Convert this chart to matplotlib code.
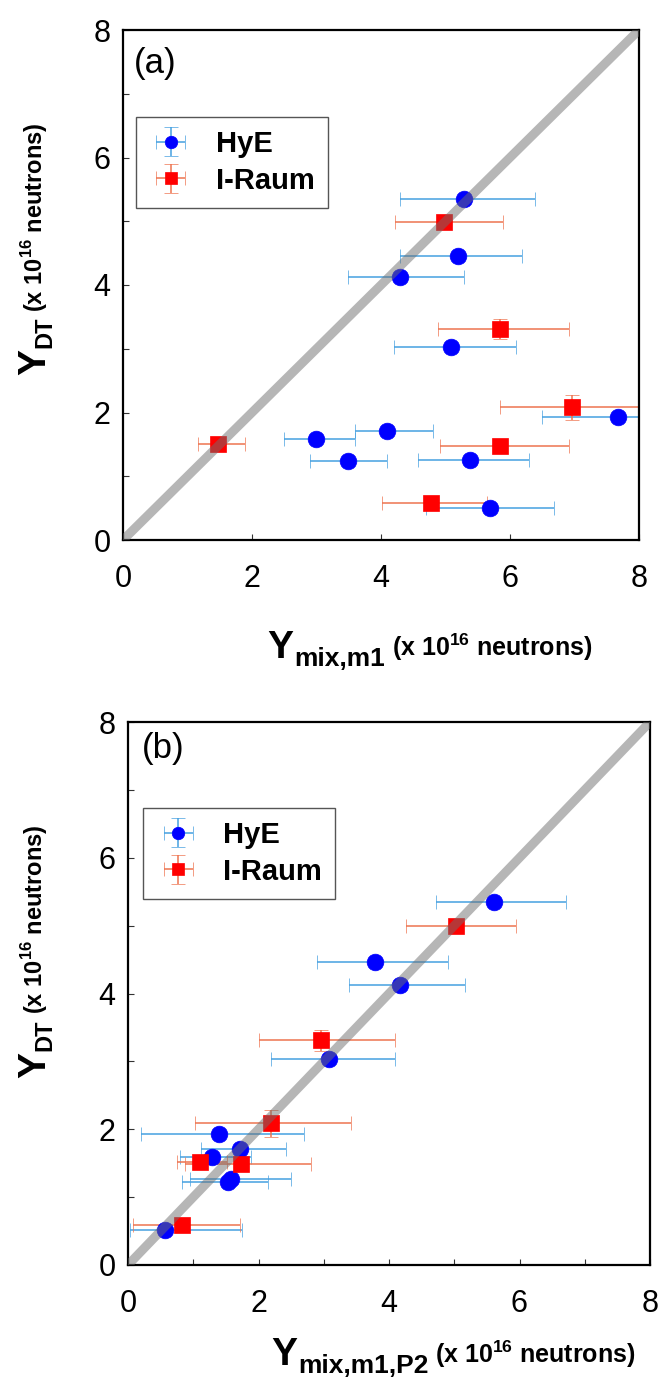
import matplotlib
matplotlib.use('Agg')
import matplotlib.pyplot as plt
from matplotlib.transforms import IdentityTransform
from matplotlib.ticker import MultipleLocator

plt.rcParams['font.family'] = ['Liberation Sans', 'DejaVu Sans']
plt.rcParams['mathtext.fontset'] = 'custom'
plt.rcParams['mathtext.rm'] = 'Liberation Sans'
plt.rcParams['mathtext.bf'] = 'Liberation Sans:bold'

# ---------------- data: panel (a) ----------------
a_hye_x = [5.29, 5.19, 4.29, 5.09, 7.68, 4.09, 2.99, 3.49, 5.38, 5.69]
a_hye_y = [5.35, 4.46, 4.12, 3.03, 1.93, 1.71, 1.59, 1.24, 1.25, 0.50]
a_hye_xlo = [4.30, 4.30, 3.49, 4.20, 6.49, 3.60, 2.50, 2.90, 4.58, 4.69]
a_hye_xhi = [6.39, 6.18, 5.29, 6.09, 8.90, 4.80, 3.60, 4.09, 6.29, 6.68]
a_hye_yerr = [0.05, 0.05, 0.05, 0.05, 0.05, 0.05, 0.05, 0.05, 0.05, 0.05]

a_ir_x = [4.97, 5.85, 6.96, 5.84, 1.47, 4.77]
a_ir_y = [4.99, 3.31, 2.08, 1.48, 1.51, 0.58]
a_ir_xlo = [4.21, 4.88, 5.85, 4.91, 1.17, 4.01]
a_ir_xhi = [5.89, 6.91, 8.10, 6.91, 1.89, 5.64]
a_ir_yerr = [0.05, 0.15, 0.20, 0.05, 0.05, 0.05]

# ---------------- data: panel (b) ----------------
b_hye_x = [5.61, 3.79, 4.17, 3.08, 1.39, 1.72, 1.28, 1.58, 1.53, 0.56]
b_hye_y = [5.35, 4.47, 4.12, 3.04, 1.93, 1.71, 1.59, 1.26, 1.23, 0.51]
b_hye_xlo = [4.72, 2.89, 3.38, 2.19, 0.20, 1.12, 0.79, 0.95, 0.82, 0.03]
b_hye_xhi = [6.71, 4.90, 5.17, 4.09, 2.69, 2.42, 1.89, 2.50, 2.15, 1.75]
b_hye_yerr = [0.05, 0.05, 0.05, 0.05, 0.05, 0.05, 0.05, 0.05, 0.05, 0.05]

b_ir_x = [5.02, 2.96, 2.19, 1.11, 1.73, 0.83]
b_ir_y = [5.00, 3.31, 2.09, 1.52, 1.49, 0.59]
b_ir_xlo = [4.26, 2.00, 1.02, 0.75, 0.87, 0.07]
b_ir_xhi = [5.94, 4.09, 3.41, 1.52, 2.80, 1.71]
b_ir_yerr = [0.05, 0.15, 0.20, 0.05, 0.05, 0.05]

series_labels = ['HyE', 'I-Raum']
tick_vals = [0, 2, 4, 6, 8]

W, H = 666, 1379
fig = plt.figure(figsize=(W / 100, H / 100), dpi=100)


def px_axes(l, t, r, b):
    return fig.add_axes([l / W, 1 - b / H, (r - l) / W, (b - t) / H])


ax1 = px_axes(123, 30, 639, 540)
ax2 = px_axes(128, 722, 650, 1265)


def draw_series(ax, x, y, xlo, xhi, yerr, marker, msize, mcolor, ecolor, label):
    xerr = [[xv - lo for xv, lo in zip(x, xlo)], [hi - xv for xv, hi in zip(x, xhi)]]
    c = ax.errorbar(x, y, xerr=xerr, yerr=yerr, fmt=marker, color=mcolor,
                    markersize=msize, markeredgecolor=mcolor, markeredgewidth=0.5,
                    ecolor=ecolor, elinewidth=1.1, capsize=5, capthick=1.2,
                    label=label)
    c.lines[0].set_zorder(3)
    for cl in c.lines[1]:
        cl.set_zorder(2)
    for bl in c.lines[2]:
        bl.set_zorder(2)
    return c


def style_axes(ax, xminor):
    ax.set_xlim(0, 8)
    ax.set_ylim(0, 8)
    ax.plot([0, 8], [0, 8], color='#6e6e6e', alpha=0.5, lw=6.5, zorder=4,
            solid_capstyle='butt')
    ax.set_xticks(tick_vals)
    ax.set_yticks(tick_vals)
    ax.set_xticklabels([str(v) for v in tick_vals])
    ax.set_yticklabels([str(v) for v in tick_vals])
    if xminor:
        ax.xaxis.set_minor_locator(MultipleLocator(1))
    ax.yaxis.set_minor_locator(MultipleLocator(1))
    ax.tick_params(which='both', direction='in', length=4.5, width=0.8,
                   color='#333333', top=False, right=False)
    ax.tick_params(axis='x', which='major', labelsize=22, pad=17)
    ax.tick_params(axis='y', which='major', labelsize=22, pad=9)
    for s in ax.spines.values():
        s.set_linewidth(1.6)
        s.set_color('black')


def add_legend(ax, anchor):
    leg = ax.legend(loc='upper left', bbox_to_anchor=anchor, borderaxespad=0,
                    prop={'weight': 'bold', 'size': 21}, fancybox=False,
                    framealpha=1, edgecolor='#555555', handlelength=1.5,
                    handletextpad=0.8, labelspacing=0.3, borderpad=0.45,
                    markerscale=0.75)
    leg.get_frame().set_linewidth(1.0)
    leg.set_zorder(10)


for ax, d, xminor, anchor, tag, tagpos in [
    (ax1, (a_hye_x, a_hye_y, a_hye_xlo, a_hye_xhi, a_hye_yerr,
           a_ir_x, a_ir_y, a_ir_xlo, a_ir_xhi, a_ir_yerr), False,
     (0.025, 0.830), '(a)', (0.022, 0.935)),
    (ax2, (b_hye_x, b_hye_y, b_hye_xlo, b_hye_xhi, b_hye_yerr,
           b_ir_x, b_ir_y, b_ir_xlo, b_ir_xhi, b_ir_yerr), True,
     (0.029, 0.842), '(b)', (0.027, 0.952)),
]:
    draw_series(ax, d[0], d[1], d[2], d[3], d[4], 'o', 12, '#0000ff', '#45a0e0', series_labels[0])
    draw_series(ax, d[5], d[6], d[7], d[8], d[9], 's', 11, '#ff0000', '#ee7450', series_labels[1])
    style_axes(ax, xminor)
    add_legend(ax, anchor)
    ax.text(tagpos[0], tagpos[1], tag, transform=ax.transAxes, fontsize=25,
            ha='left', va='center')

renderer = fig.canvas.get_renderer()
ID = IdentityTransform()


def chain_h(x0, ybase_img, parts):
    pos = x0
    for s, size, dy, gap in parts:
        t = fig.text(pos, H - (ybase_img + dy), s, fontsize=size, fontweight='bold',
                     transform=ID, ha='left', va='baseline')
        bb = t.get_window_extent(renderer)
        pos = bb.x1 + gap


def chain_v(xbase, ystart_img, parts):
    pos = H - ystart_img
    for s, size, dx, gap in parts:
        t = fig.text(xbase + dx, pos, s, fontsize=size, fontweight='bold',
                     transform=ID, rotation=90, rotation_mode='anchor',
                     ha='left', va='baseline')
        bb = t.get_window_extent(renderer)
        pos = bb.y1 + gap


small = r'(x 10$^{\mathbf{16}}$ neutrons)'
chain_h(267, 658, [('Y', 28, 0, 1), ('mix,m1', 19, 8, 7), (small, 18, -2, 0)])
chain_h(271, 1365, [('Y', 28, 0, 1), ('mix,m1,P2', 19, 8, 7), (small, 18, -2, 0)])
chain_v(45, 375, [('Y', 28, 0, 1), ('DT', 17, 6, 5), (small, 17, -2, 0)])
chain_v(45, 1078, [('Y', 28, 0, 1), ('DT', 17, 6, 5), (small, 17, -2, 0)])

fig.savefig('out.png', dpi=100)
